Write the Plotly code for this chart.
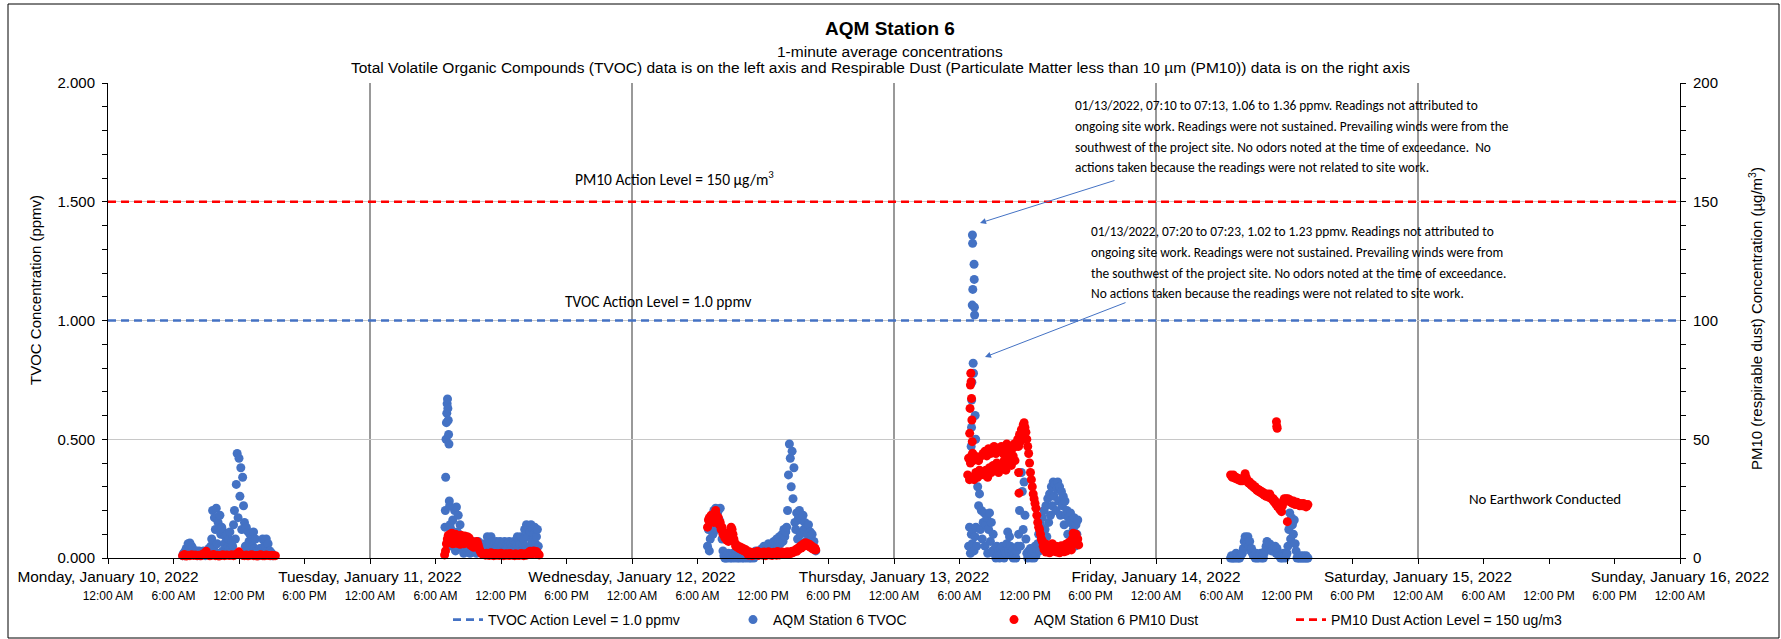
import pandas as pd
import plotly.graph_objects as go

# ---------------- data ----------------
axis_start = "2022-01-10 00:00"
axis_end = "2022-01-16 00:00"

day_tick_values = ["2022-01-10", "2022-01-11", "2022-01-12", "2022-01-13",
                   "2022-01-14", "2022-01-15", "2022-01-16"]
day_tick_labels = ["Monday, January 10, 2022", "Tuesday, January 11, 2022",
                   "Wednesday, January 12, 2022", "Thursday, January 13, 2022",
                   "Friday, January 14, 2022", "Saturday, January 15, 2022",
                   "Sunday, January 16, 2022"]
time_tick_labels = ["12:00 AM", "6:00 AM", "12:00 PM", "6:00 PM"] * 6 + ["12:00 AM"]

tvoc_action_level = 1.0   # ppmv
pm10_action_level = 150   # ug/m3

# TVOC (ppmv), readings at 5-minute spacing from the given start
tvoc_jan10_start = "2022-01-10 06:50"
tvoc_jan10 = [0.01, 0.02, 0.01, 0.03,
              0.04, 0.02, 0.06, 0.03, 0.063, 0.02, 0.05, 0.04, 0.03, 0.02,
              0.02, 0.03, 0.01, 0.02, 0.03, 0.01, 0.025, 0.015, 0.02, 0.03, 0.02, 0.01, 0.02, 0.03, 0.02, 0.04, 0.03, 0.05,
              0.08, 0.2, 0.04, 0.17, 0.12, 0.21, 0.06, 0.15, 0.02, 0.18, 0.1, 0.13,
              0.03, 0.11, 0.06, 0.09, 0.02, 0.1, 0.05, 0.08, 0.11, 0.04, 0.07,
              0.05, 0.14, 0.2, 0.08, 0.31, 0.44, 0.17, 0.42, 0.26, 0.38, 0.12, 0.34, 0.22,
              0.15, 0.05, 0.13,
              0.03, 0.11, 0.07, 0.1, 0.02, 0.09, 0.05, 0.11, 0.04, 0.08, 0.03,
              0.02, 0.03, 0.01, 0.04, 0.02,
              0.04, 0.08, 0.02, 0.07, 0.05, 0.08, 0.03, 0.06, 0.02,
              0.03, 0.01, 0.02, 0.01]

tvoc_jan11_start = "2022-01-11 07:25"
tvoc_jan11 = [0.12, 0.05, 0.16, 0.09, 0.2, 0.03, 0.215, 0.11, 0.18, 0.06, 0.14, 0.08,
              0.04, 0.07, 0.02, 0.05, 0.06, 0.03, 0.07, 0.04, 0.05, 0.02, 0.06, 0.04, 0.07, 0.03,
              0.05, 0.06, 0.02, 0.05, 0.07, 0.04, 0.03, 0.06, 0.05, 0.02, 0.04, 0.06, 0.03,
              0.05, 0.09, 0.04, 0.08, 0.06, 0.09, 0.03, 0.07, 0.05,
              0.06, 0.04, 0.07, 0.05, 0.03, 0.06, 0.07, 0.04, 0.05, 0.06, 0.03, 0.07,
              0.05, 0.04, 0.06, 0.05, 0.07, 0.03, 0.06, 0.04, 0.05, 0.07, 0.04, 0.06,
              0.05, 0.09, 0.04, 0.08, 0.06, 0.09, 0.03, 0.06,
              0.08, 0.12, 0.05, 0.14, 0.09, 0.13, 0.04, 0.11, 0.14, 0.07, 0.12, 0.1, 0.13,
              0.06, 0.09, 0.12, 0.05]

tvoc_jan12_start = "2022-01-12 06:55"
tvoc_jan12 = [0.05, 0.12, 0.03, 0.08, 0.14,
              0.18, 0.1, 0.2, 0.15, 0.21, 0.12, 0.19, 0.2, 0.16, 0.21, 0.13,
              0.08, 0.03, 0.01, 0.0,
              0.0, 0.01, 0.0, 0.02, 0.01, 0.0, 0.01, 0.0, 0.02, 0.01, 0.0, 0.01, 0.02, 0.0,
              0.01, 0.0, 0.01, 0.02, 0.0, 0.01, 0.0, 0.02, 0.01, 0.0, 0.01, 0.02, 0.0, 0.01,
              0.0, 0.01, 0.02, 0.0, 0.01, 0.03, 0.02, 0.01, 0.03, 0.02,
              0.03, 0.02, 0.04, 0.03, 0.05, 0.02, 0.04, 0.05, 0.03, 0.06, 0.04, 0.05, 0.03,
              0.06, 0.05, 0.07, 0.04, 0.06, 0.08, 0.05, 0.07, 0.09, 0.06, 0.08, 0.1, 0.07,
              0.12, 0.09, 0.11, 0.13,
              0.2, 0.35, 0.48, 0.42, 0.3, 0.45, 0.25, 0.38, 0.15,
              0.12, 0.19, 0.08, 0.17, 0.2, 0.1, 0.16, 0.05, 0.18, 0.12, 0.15, 0.07, 0.13,
              0.1, 0.14, 0.06, 0.11, 0.08, 0.1, 0.05, 0.07, 0.04, 0.03]

tvoc_jan13_start = "2022-01-13 06:50"
tvoc_jan13 = [0.05, 0.13, 0.02,
              0.1, 0.06, 0.12, 0.03, 0.09, 0.13, 0.05,
              0.3, 0.22, 0.27, 0.12, 0.2, 0.08, 0.15,
              0.19, 0.05, 0.14, 0.17, 0.02, 0.12, 0.19, 0.07, 0.15, 0.03, 0.1,
              0.02, 0.04, 0.0, 0.05, 0.01, 0.03, 0.0, 0.04, 0.02, 0.05, 0.01, 0.0, 0.03, 0.02,
              0.06, 0.11, 0.03, 0.09, 0.05,
              0.01, 0.03, 0.0, 0.04, 0.02, 0.0, 0.03, 0.05,
              0.1, 0.2, 0.05, 0.36, 0.28, 0.12, 0.32, 0.18, 0.08,
              0.02, 0.0, 0.03, 0.01, 0.04, 0.0, 0.02, 0.03, 0.0, 0.05, 0.01, 0.04,
              0.06, 0.1, 0.03, 0.14, 0.08, 0.17, 0.05, 0.2, 0.12, 0.22, 0.09, 0.25, 0.15, 0.27, 0.18,
              0.3, 0.22, 0.32, 0.26, 0.31, 0.2, 0.29, 0.32, 0.24, 0.3, 0.18, 0.28,
              0.22, 0.26, 0.14, 0.24, 0.18, 0.2, 0.1, 0.17, 0.15, 0.19, 0.08, 0.16, 0.12,
              0.17, 0.05, 0.14, 0.1, 0.16]

tvoc_jan14_start = "2022-01-14 06:50"
tvoc_jan14 = [0.0, 0.01, 0.0, 0.0, 0.01, 0.0, 0.02, 0.0, 0.01, 0.0, 0.0, 0.01, 0.02,
              0.02, 0.04, 0.07, 0.09, 0.08, 0.06, 0.09, 0.05, 0.07, 0.03, 0.04, 0.02, 0.01,
              0.01, 0.0, 0.02, 0.0, 0.01, 0.0, 0.01, 0.02, 0.0, 0.01, 0.0, 0.02,
              0.03, 0.05, 0.07, 0.06, 0.04, 0.06, 0.05, 0.03, 0.05, 0.04, 0.03, 0.05, 0.02, 0.04, 0.02, 0.01,
              0.01, 0.0, 0.01, 0.0, 0.02, 0.01, 0.0, 0.01, 0.02,
              0.05, 0.12, 0.19, 0.08, 0.17, 0.14, 0.1, 0.16, 0.06, 0.03,
              0.0, 0.01, 0.0, 0.0, 0.01, 0.0, 0.0, 0.01, 0.0, 0.0, 0.01, 0.0, 0.0]

# short TVOC excursions, 1-minute readings
tvoc_spike_times = ["2022-01-11 06:52", "2022-01-11 06:54", "2022-01-11 06:56", "2022-01-11 06:58",
                    "2022-01-11 07:00", "2022-01-11 07:02", "2022-01-11 07:04", "2022-01-11 07:06",
                    "2022-01-11 07:08", "2022-01-11 07:10", "2022-01-11 07:12", "2022-01-11 07:14",
                    "2022-01-11 07:16", "2022-01-11 07:18", "2022-01-11 07:20",
                    "2022-01-13 07:04", "2022-01-13 07:06", "2022-01-13 07:07", "2022-01-13 07:08",
                    "2022-01-13 07:10", "2022-01-13 07:11", "2022-01-13 07:12", "2022-01-13 07:13",
                    "2022-01-13 07:15", "2022-01-13 07:17", "2022-01-13 07:20", "2022-01-13 07:21",
                    "2022-01-13 07:22", "2022-01-13 07:23", "2022-01-13 07:26", "2022-01-13 07:29",
                    "2022-01-13 07:32"]
tvoc_spike_values = [0.13, 0.2, 0.34, 0.5, 0.57, 0.61, 0.65, 0.67, 0.63, 0.58, 0.52, 0.48, 0.24, 0.22, 0.14,
                     0.47, 0.55, 0.665, 0.74, 1.065, 1.36, 1.325, 1.131, 0.82, 0.778, 1.237, 1.173,
                     1.056, 1.023, 0.6, 0.5, 0.42]

# PM10 dust (ug/m3)
pm10_jan10_start = "2022-01-10 06:50"   # 10-minute spacing
pm10_jan10 = [1.0, 1.5, 0.8, 1.2, 1.0, 1.4, 1.1, 1.3, 1.0, 1.2, 0.9, 1.6, 2.0, 2.8, 1.3, 0.9, 1.2,
              1.5, 1.0, 1.2, 0.8, 1.1, 1.4, 1.0, 1.3, 1.2, 1.1, 1.4, 1.0, 1.3, 1.8, 2.6, 1.5, 1.1,
              1.0, 1.3, 0.9, 1.2, 1.4, 1.0, 1.1, 0.8, 1.2, 1.4, 1.0, 0.9, 1.3, 1.1, 1.0, 1.2, 0.9, 1.0]

pm10_jan11_start = "2022-01-11 06:50"   # 5-minute spacing from here on
pm10_jan11 = [1.3, 3, 6, 8, 9.5, 6.5, 10, 7, 10.4, 6, 9.8, 7.5, 10, 6.2, 9.5, 7, 9.2, 5.8, 9.6, 7.2,
              9, 6, 9.3, 7.6, 8, 9, 6.5, 8.4, 5.5, 7.2, 5, 6, 4.5, 5.8, 6.5, 7, 6.7, 5.5, 4, 3,
              2.2, 1.8, 2, 1.5,
              1.6, 1.2, 2.0, 1.4, 1.8, 1.1, 1.5, 2.2, 1.3, 1.7, 1.0, 1.6, 1.9, 1.2, 1.5, 1.8,
              1.1, 1.4, 2.0, 1.3, 1.6, 1.0, 1.5, 1.8, 1.2, 1.7, 1.4, 1.1, 1.9, 1.3, 1.6, 1.2,
              1.5, 1.0, 1.8, 1.4, 1.2, 1.6, 1.1, 1.5, 1.9, 1.3, 1.7, 1.0, 1.4, 1.8, 1.2, 1.6,
              2.1, 2.5, 2.8, 2.2, 1.8, 2.6, 3.0, 2.4, 1.9, 2.7, 2.2, 1.6, 1.3]

pm10_jan12_start = "2022-01-12 06:55"
pm10_jan12 = [13, 16, 17, 15, 18, 16.5, 17.5, 15, 19, 20, 18, 16, 17, 14, 15, 12, 13, 10, 11, 8.5,
              9.5, 7.6, 8, 7, 9, 11, 13, 12, 10, 8, 6.5, 5, 5.5, 4.5, 4.8, 4, 4.6, 3.5, 4.2, 3.2,
              3.8, 2.8, 3.5, 2.5,
              2.0, 1.2, 2.6, 1.5, 2.2, 1.0, 1.8, 2.4, 1.3, 2.0, 1.6, 2.8, 1.1, 1.9, 2.3, 1.4,
              2.0, 1.2, 2.5, 1.7, 1.0, 2.1, 1.5, 2.6, 1.3, 1.9, 2.2, 1.1, 1.6, 2.4, 1.4, 2.0,
              1.2, 2.7, 1.8, 1.3, 2.1, 1.6, 2.5, 1.5, 2.0, 1.7, 2.4, 1.9, 2.6, 2.2, 1.8, 2.5,
              2.0, 2.8, 2.3, 2.6,
              3.0, 3.5, 2.8, 4.0, 3.6, 4.5, 5.0, 4.2, 5.5, 4.8, 6.0, 5.2, 6.4, 5.5, 6.0, 5.0,
              5.8, 4.6, 5.2, 4.0, 4.5, 3.6, 4.2, 3.4]

pm10_jan13_start = "2022-01-13 06:45"
pm10_jan13 = [35, 42, 33, 40, 43, 34, 41, 33, 43, 36, 42, 34, 41, 37, 35, 43,
              36, 44, 35, 45, 37, 43, 34, 46, 38, 44, 36, 45, 39, 47, 37, 44, 40, 46, 36, 45,
              39, 47, 38, 44, 41, 46, 37, 48, 40, 45, 42, 47, 39, 46, 43, 48, 41, 47,
              48, 50, 47, 52, 49, 54, 51, 56, 57, 55, 53,
              50, 47, 44, 40, 36, 33, 30, 27, 25, 23, 21,
              18, 15, 13, 12, 10, 8, 7,
              5, 3.5, 6, 2.5, 4, 5.5, 3, 2.2, 4.5, 3, 6, 2.8, 4, 3.2, 5, 2.5, 3.8, 4.6, 2.2,
              3.5, 5.2, 3, 4.2, 2.6, 3.6, 5.8, 3, 4.4, 6.5, 4, 5, 3.4,
              8, 10.4, 9, 7, 10, 6, 8, 5.5]

pm10_jan14_start = "2022-01-14 06:50"
pm10_jan14 = [35, 34.5, 34, 35, 34, 33.5, 34, 33.5, 33, 33.5, 33, 32.5, 33, 32.5, 33, 34, 35.5,
              34, 33, 32, 31.5, 32, 31, 30.5, 31, 30, 29.5, 30, 29, 28.5, 29, 28, 28.5, 27.5, 28,
              27, 27.5, 26.5, 27, 26, 27, 26, 25.5, 27, 26, 25, 24.5, 25, 23.5, 24, 22.5, 23, 21.5,
              22, 20.5, 21, 19.5, 22, 24, 25, 24, 25, 24.5, 25, 24, 24.5, 23.5, 24, 23, 24, 23.5,
              22.5, 23, 23.5, 22.5, 23, 22, 23, 22.5, 22, 23, 22, 22.5, 21.5, 22, 22.5]

# short PM10 excursions and isolated readings
pm10_spike_times = ["2022-01-13 06:56", "2022-01-13 06:58", "2022-01-13 07:00", "2022-01-13 07:02",
                    "2022-01-13 07:04", "2022-01-13 07:06", "2022-01-13 07:08", "2022-01-13 07:10",
                    "2022-01-13 07:12", "2022-01-13 11:25", "2022-01-13 11:27",
                    "2022-01-14 11:02", "2022-01-14 11:04", "2022-01-14 11:06", "2022-01-14 12:02"]
pm10_spike_values = [52.5, 63, 72.8, 77.8, 74.2, 67.2, 58.1, 49, 44.1, 36, 27.3,
                     57.4, 55.5, 54.6, 15.3]

# ---------------- assemble series ----------------
def series(start, values, minutes):
    return list(pd.date_range(start, periods=len(values), freq=f"{minutes}min")), list(values)

tvoc_x, tvoc_y = [], []
for start, vals in [(tvoc_jan10_start, tvoc_jan10), (tvoc_jan11_start, tvoc_jan11),
                    (tvoc_jan12_start, tvoc_jan12), (tvoc_jan13_start, tvoc_jan13),
                    (tvoc_jan14_start, tvoc_jan14)]:
    xs, ys = series(start, vals, 5)
    tvoc_x += xs
    tvoc_y += ys
tvoc_x += list(pd.to_datetime(tvoc_spike_times))
tvoc_y += tvoc_spike_values

pm_x, pm_y = [], []
for start, vals, step in [(pm10_jan10_start, pm10_jan10, 10), (pm10_jan11_start, pm10_jan11, 5),
                          (pm10_jan12_start, pm10_jan12, 5), (pm10_jan13_start, pm10_jan13, 5),
                          (pm10_jan14_start, pm10_jan14, 5)]:
    xs, ys = series(start, vals, step)
    pm_x += xs
    pm_y += ys
pm_x += list(pd.to_datetime(pm10_spike_times))
pm_y += pm10_spike_values

time_tick_values = list(pd.date_range(axis_start, axis_end, freq="6h"))

# ---------------- figure ----------------
W, H = 1781, 639
L, R, T, B = 108, 101, 83, 81
PW, PH = W - L - R, H - T - B


def px(xp):
    return (xp - L) / PW


def py(yp):
    return (H - B - yp) / PH


BLUE = "#4472C4"
RED = "#FF0000"
ARIAL = "Liberation Sans, Arial, sans-serif"
CAL = "Carlito, Calibri, Lato, sans-serif"
MSIZE = 9

fig = go.Figure()
fig.add_trace(go.Scatter(x=[axis_start, axis_end], y=[tvoc_action_level] * 2, mode="lines",
                         name="TVOC Action Level = 1.0 ppmv", legendwidth=240,
                         line=dict(color=BLUE, width=2.6, dash="8px,5px")))
fig.add_trace(go.Scatter(x=tvoc_x, y=tvoc_y, mode="markers", name="AQM Station 6 TVOC", legendwidth=216,
                         marker=dict(color=BLUE, size=MSIZE, line=dict(width=0)), cliponaxis=False))
fig.add_trace(go.Scatter(x=pm_x, y=pm_y, mode="markers", name="AQM Station 6 PM10 Dust", yaxis="y2",
                         legendwidth=252,
                         marker=dict(color=RED, size=MSIZE, line=dict(width=0)), cliponaxis=False))
fig.add_trace(go.Scatter(x=[axis_start, axis_end], y=[pm10_action_level] * 2, mode="lines", yaxis="y2",
                         name="PM10 Dust Action Level = 150 ug/m3", legendwidth=250,
                         line=dict(color=RED, width=2.6, dash="8px,5px")))
# carrier for the secondary (time-of-day) x axis labels
fig.add_trace(go.Scatter(x=[axis_start, axis_end], y=[None, None], xaxis="x2", yaxis="y", mode="markers",
                         showlegend=False, hoverinfo="skip", marker=dict(opacity=0)))

annotations = [
    dict(text="1-minute average concentrations", x=px(890), y=py(51)),
    dict(text="Total Volatile Organic Compounds (TVOC) data is on the left axis and Respirable Dust "
              "(Particulate Matter less than 10 µm (PM10)) data is on the right axis", x=px(880), y=py(68)),
]
for a in annotations:
    a.update(xref="paper", yref="paper", showarrow=False, xanchor="center", yanchor="middle",
             font=dict(family=ARIAL, size=15.5, color="#000"))

axis_titles = [
    dict(text="TVOC Concentration (ppmv)", x=px(35), y=py(290), textangle=-90),
    dict(text="PM10 (respirable dust) Concentration (µg/m<sup>3</sup>)", x=px(1755), y=py(319), textangle=-90),
]
for a in axis_titles:
    a.update(xref="paper", yref="paper", showarrow=False, xanchor="center", yanchor="middle",
             font=dict(family=ARIAL, size=15, color="#000"))
annotations += axis_titles

note_lines = [
    ("PM10 Action Level = 150 µg/m<sup>3</sup>", 674, 178, "center", 15.5),
    ("TVOC Action Level = 1.0 ppmv", 658, 301, "center", 15.4),
    ("No Earthwork Conducted", 1545, 499, "center", 14.9),
    ("01/13/2022, 07:10 to 07:13, 1.06 to 1.36 ppmv. Readings not attributed to", 1073, 105, "left", 13.4),
    ("ongoing site work. Readings were not sustained. Prevailing winds were from the", 1073, 126, "left", 13.4),
    ("southwest of the project site. No odors noted at the time of exceedance.  No", 1073, 147, "left", 13.4),
    ("actions taken because the readings were not related to site work.", 1073, 167, "left", 13.4),
    ("01/13/2022, 07:20 to 07:23, 1.02 to 1.23 ppmv. Readings not attributed to", 1089, 231, "left", 13.4),
    ("ongoing site work. Readings were not sustained. Prevailing winds were from", 1089, 252, "left", 13.4),
    ("the southwest of the project site. No odors noted at the time of exceedance.", 1089, 273, "left", 13.4),
    ("No actions taken because the readings were not related to site work.", 1089, 293, "left", 13.4),
]
for text, xx, yy, anc, fs in note_lines:
    annotations.append(dict(text=text, x=px(xx), y=py(yy), xref="paper", yref="paper", showarrow=False,
                            xanchor=anc, yanchor="middle", font=dict(family=CAL, size=fs, color="#000")))

for hx, hy, tx, ty in [(980, 223, 1116, 180), (985, 357, 1127, 302)]:
    annotations.append(dict(text="", x=px(hx), y=py(hy), xref="paper", yref="paper", showarrow=True,
                            ax=tx - hx, ay=ty - hy, axref="pixel", ayref="pixel",
                            arrowhead=2, arrowsize=1.2, arrowwidth=1, arrowcolor=BLUE))

fig.update_layout(
    width=W, height=H, autosize=False,
    margin=dict(l=L, r=R, t=T, b=B, autoexpand=False),
    paper_bgcolor="white", plot_bgcolor="white",
    title=dict(text="<b>AQM Station 6</b>", x=890 / W, y=1 - 28 / H, xanchor="center", yanchor="middle",
               xref="container", yref="container", font=dict(family=ARIAL, size=19, color="#000")),
    font=dict(family=ARIAL, color="#000"),
    showlegend=True,
    legend=dict(orientation="h", x=448 / W, y=1 - 620 / H, xref="container", yref="container",
                xanchor="left", yanchor="middle",
                font=dict(family=ARIAL, size=14, color="#000"),
                bgcolor="rgba(0,0,0,0)"),
    annotations=annotations,
    xaxis=dict(type="date", range=[axis_start, axis_end], tickmode="array",
               tickvals=day_tick_values, ticktext=day_tick_labels, ticks="",
               ticklabelstandoff=5, tickfont=dict(size=15.4, family=ARIAL, color="#000"),
               showgrid=True, gridcolor="#999999", gridwidth=1.5,
               showline=True, linecolor="#000", linewidth=1, zeroline=False),
    xaxis2=dict(type="date", range=[axis_start, axis_end], overlaying="x", anchor="y", side="bottom",
                tickmode="array", tickvals=time_tick_values, ticktext=time_tick_labels,
                ticks="outside", ticklen=5, tickcolor="#000", tickwidth=1,
                ticklabelstandoff=22, tickfont=dict(size=12, family=ARIAL, color="#000"),
                showgrid=False, showline=False, zeroline=False),
    yaxis=dict(range=[0, 2], tick0=0, dtick=0.5, tickformat=".3f", ticks="outside", ticklen=5,
               tickcolor="#000", ticklabelstandoff=4, tickfont=dict(size=15, family=ARIAL, color="#000"),
               showgrid=True, gridcolor="#C8C8C8", gridwidth=1, showline=True, linecolor="#000",
               zeroline=False,
               minor=dict(dtick=0.1, tick0=0, ticks="outside", ticklen=5, tickcolor="#000", showgrid=False)),
    yaxis2=dict(range=[0, 200], tick0=0, dtick=50, overlaying="y", side="right", anchor="x",
                ticks="outside", ticklen=5, tickcolor="#000", ticklabelstandoff=4,
                tickfont=dict(size=15, family=ARIAL, color="#000"),
                showgrid=False, showline=True, linecolor="#000", zeroline=False,
                minor=dict(dtick=10, tick0=0, ticks="outside", ticklen=5, tickcolor="#000", showgrid=False)),
    shapes=[dict(type="rect", xref="paper", yref="paper", x0=px(8), x1=px(1779), y0=py(638), y1=py(4),
                 line=dict(color="#000", width=1), fillcolor="rgba(0,0,0,0)", layer="above")],
)

fig.write_html("out.html", config={"displayModeBar": False},
               post_script="document.body.style.margin='0px';document.body.style.overflow='hidden';")
